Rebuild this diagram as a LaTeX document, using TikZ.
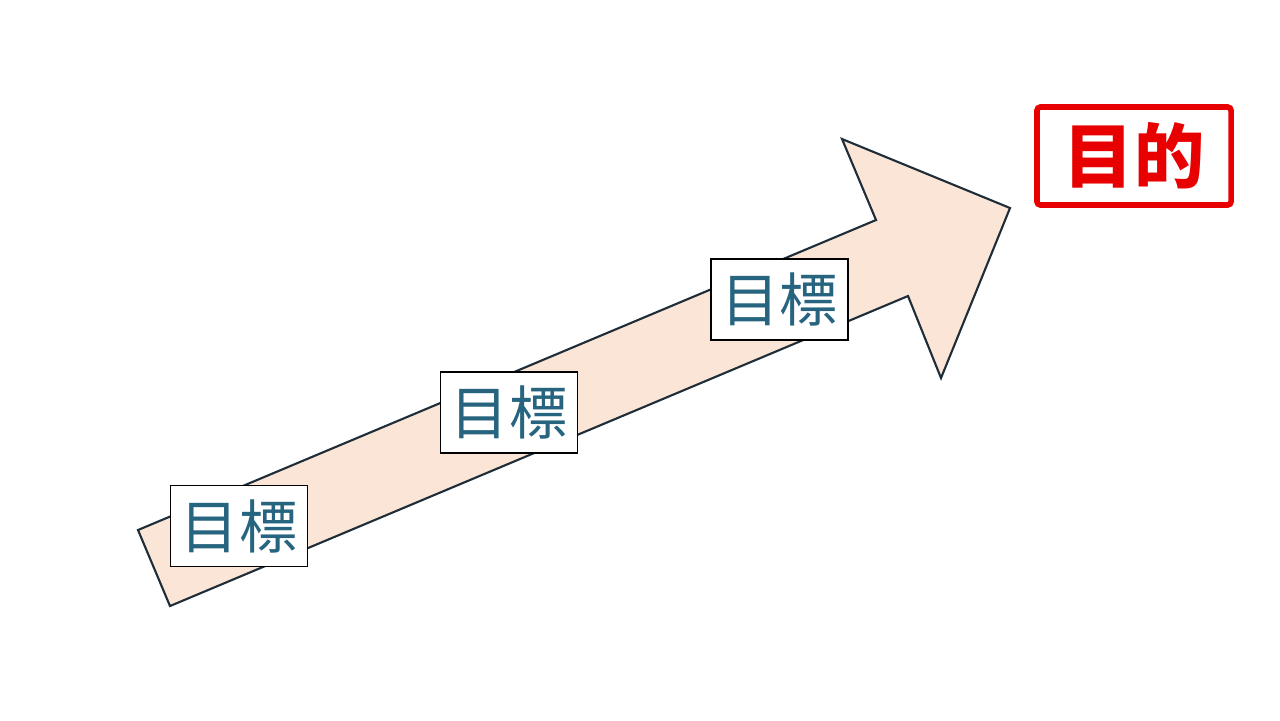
\documentclass[tikz,border=0pt]{standalone}
\usepackage{fontspec}
\newfontfamily\jpfont{Noto Sans CJK JP}
\usepackage{tikz}
\definecolor{peach}{RGB}{251,229,214}
\definecolor{edgegray}{RGB}{30,45,55}
\definecolor{goaltext}{RGB}{38,100,128}
\definecolor{aimred}{RGB}{232,0,0}
\tikzset{
  goalbox/.style={draw=black, fill=white, line width=0.45pt, minimum width=1.37cm,
    minimum height=0.81cm, inner sep=0pt, font=\jpfont\fontsize{16.5}{18}\selectfont, text=goaltext},
  aimbox/.style={draw=aimred, line width=1.6pt, rounded corners=1pt, minimum width=1.94cm,
    minimum height=0.98cm, inner sep=0pt, font=\jpfont\bfseries\fontsize{20}{22}\selectfont, text=aimred}
}
\begin{document}
\begin{tikzpicture}[x=0.01cm, y=-0.01cm]
        \useasboundingbox (0,0) rectangle (1280,720);
        
        % Pfeil
        \fill[peach] (138,530) -- (876,220) -- (842,139) -- (1010,208)
            -- (941,378) -- (908,296) -- (170,606) -- cycle;
        \draw[edgegray, line width=0.6pt, line join=miter] (138,530) -- (876,220) -- (842,139) -- (1010,208)
            -- (941,378) -- (908,296) -- (170,606) -- cycle;
        
        % Ziele
        \node[goalbox] (goal1) at (239,526) {目標};
        \node[goalbox] (goal2) at (509,412.5) {目標};
        \node[goalbox] (goal3) at (779.5,299.5) {目標};
        
        % Zweck
        \node[aimbox] (aim) at (1134,156) {目的};
    \end{tikzpicture}
\end{document}
